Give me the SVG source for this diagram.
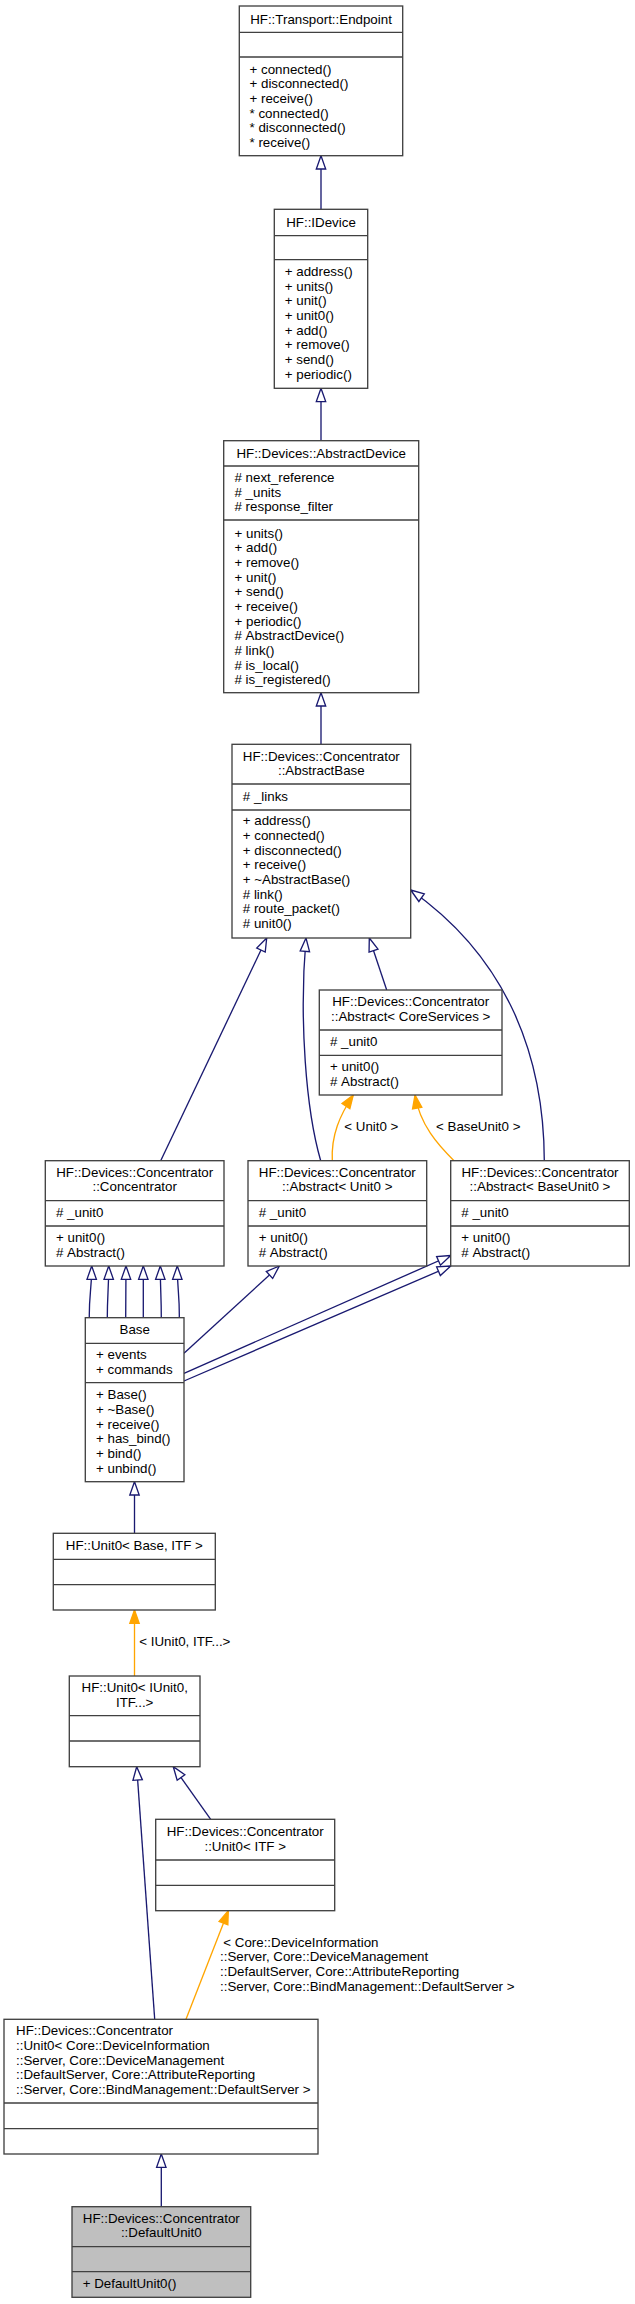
<svg xmlns="http://www.w3.org/2000/svg" width="635" height="2304" viewBox="0 0 635 2304">
<style>
.box{fill:#ffffff;stroke:#404040;stroke-width:1.33}
.sel{fill:#bfbfbf;stroke:#404040;stroke-width:1.33}
.sep{stroke:#404040;stroke-width:1.33;fill:none}
text{font-family:"Liberation Sans",Arial,Helvetica,sans-serif;font-size:13.33px;fill:#000000}
.c{text-anchor:middle}
.inh{fill:none;stroke:#191970;stroke-width:1.33}
.tpl{fill:none;stroke:#ffa500;stroke-width:1.33}
</style>
<defs>
<marker id="hollow" markerUnits="userSpaceOnUse" markerWidth="18" markerHeight="14" viewBox="-15 -7 18 14" refX="0" refY="0" orient="auto" overflow="visible">
<path d="M0,0 L-13.3,-4.7 L-13.3,4.7 Z" fill="#ffffff" stroke="#191970" stroke-width="1.33"/>
</marker>
<marker id="filled" markerUnits="userSpaceOnUse" markerWidth="18" markerHeight="14" viewBox="-15 -7 18 14" refX="0" refY="0" orient="auto" overflow="visible">
<path d="M0,0 L-13.3,-4.7 L-13.3,4.7 Z" fill="#ffa500" stroke="#ffa500" stroke-width="1.33"/>
</marker>
</defs>

<g id="connectors">
<path class="inh" d="M321,209.3 V155.7" marker-end="url(#hollow)"/>
<path class="inh" d="M321,440.7 V388.3" marker-end="url(#hollow)"/>
<path class="inh" d="M321,744.3 V692.7" marker-end="url(#hollow)"/>
<path class="inh" d="M160.7,1160.7 L266.7,938" marker-end="url(#hollow)"/>
<path class="inh" d="M320.7,1160.7 C306,1110 299,1020 306,938" marker-end="url(#hollow)"/>
<path class="inh" d="M386.7,990 L369.3,938" marker-end="url(#hollow)"/>
<path class="inh" d="M544.3,1160.7 C544,1060 510,960 410.7,890" marker-end="url(#hollow)"/>
<path class="tpl" d="M332.3,1160.7 C331,1135 340,1115 353.3,1095" marker-end="url(#filled)"/>
<path class="tpl" d="M454,1160.7 C438,1145 420,1125 415,1095" marker-end="url(#filled)"/>
<path class="inh" d="M184,1353.3 L279.3,1266" marker-end="url(#hollow)"/>
<path class="inh" d="M184,1373.3 L450.7,1255.5" marker-end="url(#hollow)"/>
<path class="inh" d="M184,1381 L450.7,1266" marker-end="url(#hollow)"/>
<path class="inh" d="M89.3,1317.7 C89,1295 91.7,1290 91.7,1266" marker-end="url(#hollow)"/>
<path class="inh" d="M107.3,1317.7 C107.3,1295 108.7,1290 108.7,1266" marker-end="url(#hollow)"/>
<path class="inh" d="M125.7,1317.7 C125.7,1295 126,1290 126,1266" marker-end="url(#hollow)"/>
<path class="inh" d="M143.3,1317.7 C143.3,1295 143.3,1290 143.3,1266" marker-end="url(#hollow)"/>
<path class="inh" d="M161.3,1317.7 C161.3,1295 160.3,1290 160.3,1266" marker-end="url(#hollow)"/>
<path class="inh" d="M179.3,1317.7 C179.6,1295 177.3,1290 177.3,1266" marker-end="url(#hollow)"/>
<path class="inh" d="M134.5,1533.3 V1481.7" marker-end="url(#hollow)"/>
<path class="tpl" d="M134.5,1676 V1610" marker-end="url(#filled)"/>
<path class="inh" d="M154.7,2019.3 L136.7,1766.7" marker-end="url(#hollow)"/>
<path class="inh" d="M210.7,1819.3 L173.3,1766.7" marker-end="url(#hollow)"/>
<path class="tpl" d="M186,2019.3 L228.3,1910.7" marker-end="url(#filled)"/>
<path class="inh" d="M161.3,2206.7 V2154" marker-end="url(#hollow)"/>
<text x="344.3" y="1131">&lt; Unit0 &gt;</text>
<text x="436" y="1131">&lt; BaseUnit0 &gt;</text>
<text x="139.3" y="1646">&lt; IUnit0, ITF...&gt;</text>
<text x="223.3" y="1947">&lt; Core::DeviceInformation</text>
<text x="220" y="1961">::Server, Core::DeviceManagement</text>
<text x="220" y="1976">::DefaultServer, Core::AttributeReporting</text>
<text x="220" y="1991">::Server, Core::BindManagement::DefaultServer &gt;</text>
</g>

<g id="endpoint">
<rect class="box" x="239.3" y="6" width="163.4" height="149.7"/>
<path class="sep" d="M239.3,32.3 H402.7 M239.3,57 H402.7"/>
<text class="c" x="321" y="24">HF::Transport::Endpoint</text>
<text x="249.5" y="73.6">+ connected()</text>
<text x="249.5" y="88.3">+ disconnected()</text>
<text x="249.5" y="103">+ receive()</text>
<text x="249.5" y="117.6">* connected()</text>
<text x="249.5" y="132.3">* disconnected()</text>
<text x="249.5" y="147">* receive()</text>
</g>

<g id="idevice">
<rect class="box" x="274.3" y="209.3" width="93.4" height="179"/>
<path class="sep" d="M274.3,235.7 H367.7 M274.3,259.7 H367.7"/>
<text class="c" x="321" y="226.5">HF::IDevice</text>
<text x="284.8" y="276">+ address()</text>
<text x="284.8" y="290.7">+ units()</text>
<text x="284.8" y="305.3">+ unit()</text>
<text x="284.8" y="320">+ unit0()</text>
<text x="284.8" y="334.7">+ add()</text>
<text x="284.8" y="349.3">+ remove()</text>
<text x="284.8" y="364">+ send()</text>
<text x="284.8" y="378.7">+ periodic()</text>
</g>

<g id="abstractdevice">
<rect class="box" x="223.7" y="440.7" width="195" height="252"/>
<path class="sep" d="M223.7,466 H418.7 M223.7,520 H418.7"/>
<text class="c" x="321.2" y="457.6">HF::Devices::AbstractDevice</text>
<text x="234.5" y="482">#&#160;next_reference</text>
<text x="234.5" y="496.6">#&#160;_units</text>
<text x="234.5" y="511.3">#&#160;response_filter</text>
<text x="234.5" y="537.6">+ units()</text>
<text x="234.5" y="552.3">+ add()</text>
<text x="234.5" y="566.9">+ remove()</text>
<text x="234.5" y="581.6">+ unit()</text>
<text x="234.5" y="596.3">+ send()</text>
<text x="234.5" y="611">+ receive()</text>
<text x="234.5" y="625.6">+ periodic()</text>
<text x="234.5" y="640.3">#&#160;AbstractDevice()</text>
<text x="234.5" y="655">#&#160;link()</text>
<text x="234.5" y="669.6">#&#160;is_local()</text>
<text x="234.5" y="684.3">#&#160;is_registered()</text>
</g>

<g id="abstractbase">
<rect class="box" x="232" y="744.3" width="178.7" height="193.7"/>
<path class="sep" d="M232,784 H410.7 M232,810 H410.7"/>
<text class="c" x="321.3" y="761">HF::Devices::Concentrator</text>
<text class="c" x="321.3" y="775">::AbstractBase</text>
<text x="242.8" y="801">#&#160;_links</text>
<text x="242.8" y="825.3">+ address()</text>
<text x="242.8" y="840">+ connected()</text>
<text x="242.8" y="854.6">+ disconnected()</text>
<text x="242.8" y="869.3">+ receive()</text>
<text x="242.8" y="884">+ ~AbstractBase()</text>
<text x="242.8" y="898.6">#&#160;link()</text>
<text x="242.8" y="913.3">#&#160;route_packet()</text>
<text x="242.8" y="928">#&#160;unit0()</text>
</g>

<g id="abstract_coreservices">
<rect class="box" x="319.3" y="990" width="182.7" height="105"/>
<path class="sep" d="M319.3,1030 H502 M319.3,1055.3 H502"/>
<text class="c" x="410.7" y="1006">HF::Devices::Concentrator</text>
<text class="c" x="410.7" y="1021">::Abstract&lt; CoreServices &gt;</text>
<text x="330" y="1046">#&#160;_unit0</text>
<text x="330" y="1071">+ unit0()</text>
<text x="330" y="1085.6">#&#160;Abstract()</text>
</g>

<g id="concentrator">
<rect class="box" x="45.3" y="1160.7" width="178.7" height="105.3"/>
<path class="sep" d="M45.3,1200.7 H224 M45.3,1226 H224"/>
<text class="c" x="134.7" y="1177">HF::Devices::Concentrator</text>
<text class="c" x="134.7" y="1191">::Concentrator</text>
<text x="56" y="1217">#&#160;_unit0</text>
<text x="56" y="1242.3">+ unit0()</text>
<text x="56" y="1257">#&#160;Abstract()</text>
</g>

<g id="abstract_unit0">
<rect class="box" x="248" y="1160.7" width="178.7" height="105.3"/>
<path class="sep" d="M248,1200.7 H426.7 M248,1226 H426.7"/>
<text class="c" x="337.3" y="1177">HF::Devices::Concentrator</text>
<text class="c" x="337.3" y="1191">::Abstract&lt; Unit0 &gt;</text>
<text x="258.7" y="1217">#&#160;_unit0</text>
<text x="258.7" y="1242.3">+ unit0()</text>
<text x="258.7" y="1257">#&#160;Abstract()</text>
</g>

<g id="abstract_baseunit0">
<rect class="box" x="450.7" y="1160.7" width="178.6" height="105.3"/>
<path class="sep" d="M450.7,1200.7 H629.3 M450.7,1226 H629.3"/>
<text class="c" x="540" y="1177">HF::Devices::Concentrator</text>
<text class="c" x="540" y="1191">::Abstract&lt; BaseUnit0 &gt;</text>
<text x="461.3" y="1217">#&#160;_unit0</text>
<text x="461.3" y="1242.3">+ unit0()</text>
<text x="461.3" y="1257">#&#160;Abstract()</text>
</g>

<g id="base">
<rect class="box" x="85.3" y="1317.7" width="98.7" height="164"/>
<path class="sep" d="M85.3,1343.3 H184 M85.3,1382.7 H184"/>
<text class="c" x="134.7" y="1333.6">Base</text>
<text x="96" y="1359.3">+ events</text>
<text x="96" y="1373.6">+ commands</text>
<text x="96" y="1399.3">+ Base()</text>
<text x="96" y="1414">+ ~Base()</text>
<text x="96" y="1428.6">+ receive()</text>
<text x="96" y="1443.3">+ has_bind()</text>
<text x="96" y="1458">+ bind()</text>
<text x="96" y="1472.6">+ unbind()</text>
</g>

<g id="unit0_base_itf">
<rect class="box" x="53.3" y="1533.3" width="162" height="76.7"/>
<path class="sep" d="M53.3,1559.3 H215.3 M53.3,1584.7 H215.3"/>
<text class="c" x="134.3" y="1550.3">HF::Unit0&lt; Base, ITF &gt;</text>
</g>

<g id="unit0_iunit0_itf">
<rect class="box" x="69.3" y="1676" width="130.7" height="90.7"/>
<path class="sep" d="M69.3,1715.7 H200 M69.3,1741 H200"/>
<text class="c" x="134.7" y="1691.6">HF::Unit0&lt; IUnit0,</text>
<text class="c" x="134.7" y="1707">ITF...&gt;</text>
</g>

<g id="concentrator_unit0_itf">
<rect class="box" x="155.7" y="1819.3" width="179" height="91.4"/>
<path class="sep" d="M155.7,1860 H334.7 M155.7,1885.3 H334.7"/>
<text class="c" x="245.2" y="1836.3">HF::Devices::Concentrator</text>
<text class="c" x="245.2" y="1851">::Unit0&lt; ITF &gt;</text>
</g>

<g id="concentrator_unit0_core">
<rect class="box" x="4" y="2019.3" width="314" height="134.7"/>
<path class="sep" d="M4,2103 H318 M4,2128.7 H318"/>
<text x="16" y="2035">HF::Devices::Concentrator</text>
<text x="16" y="2050">::Unit0&lt; Core::DeviceInformation</text>
<text x="16" y="2064.8">::Server, Core::DeviceManagement</text>
<text x="16" y="2079.3">::DefaultServer, Core::AttributeReporting</text>
<text x="16" y="2094">::Server, Core::BindManagement::DefaultServer &gt;</text>
</g>

<g id="defaultunit0">
<rect class="sel" x="72" y="2206.7" width="178.7" height="90.6"/>
<path class="sep" d="M72,2246.7 H250.7 M72,2271.7 H250.7"/>
<text class="c" x="161.3" y="2223.3">HF::Devices::Concentrator</text>
<text class="c" x="161.3" y="2237">::DefaultUnit0</text>
<text x="82.7" y="2288.3">+ DefaultUnit0()</text>
</g>
</svg>
